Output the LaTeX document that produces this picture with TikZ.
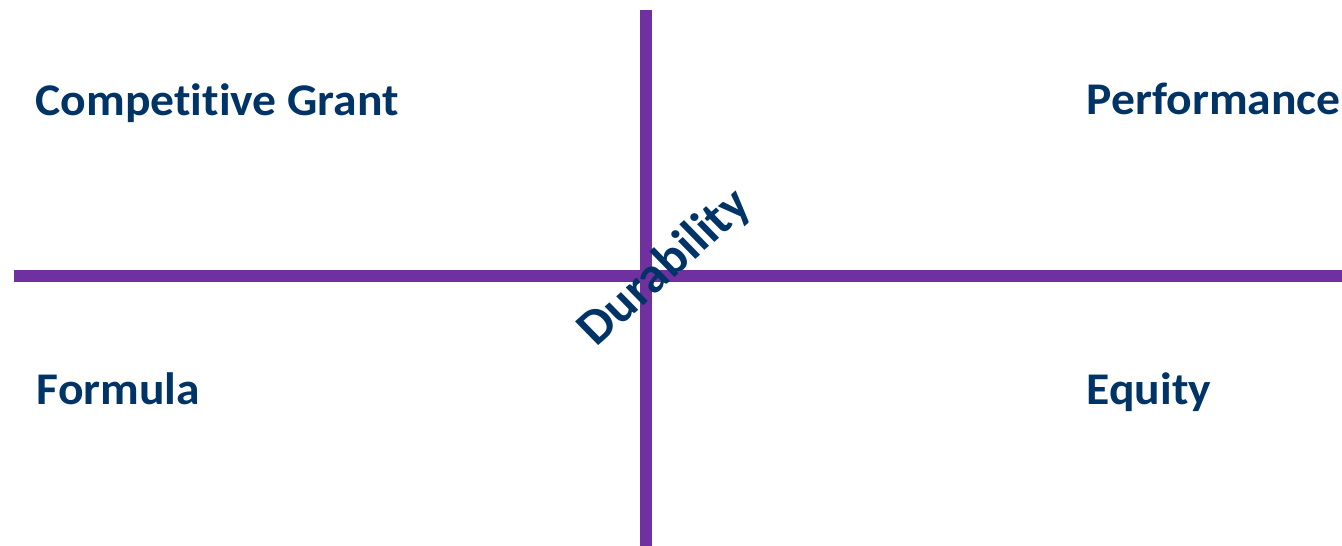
\documentclass[tikz,border=0pt]{standalone}
\usepackage{fontspec}
\setmainfont[Ligatures=NoCommon]{Carlito}
\usetikzlibrary{calc}
\definecolor{axispurple}{HTML}{7030A0}
\definecolor{labelnavy}{HTML}{003366}

\begin{document}
\begin{tikzpicture}[axis/.style={draw=axispurple, line width=0.115cm},
	quad/.style={inner sep=0pt, anchor=base west, text=labelnavy, font=\fontsize{12.9pt}{15pt}\selectfont\bfseries, xscale=1.05, transform shape}]
			\useasboundingbox (0,0) rectangle (13.42,5.46);
			\clip (0,0) rectangle (13.42,5.46);
			% axes
			\coordinate (top) at (6.46,5.36);
			\coordinate (bottom) at (6.46,0);
			\coordinate (left) at (0.14,2.70);
			\coordinate (right) at (13.42,2.70);
			\draw[axis] (top) -- (bottom);
			\draw[axis] (left) -- (right);
			% quadrant labels
			\node[quad] (grant) at (0.35,4.30) {Competitive Grant};
			\node[quad] (perf) at (10.86,4.31) {Performance};
			\node[quad] (formula) at (0.36,1.41) {Formula};
			\node[quad] (equity) at (10.86,1.41) {Equity};
			\node[inner sep=0pt, text=labelnavy, font=\fontsize{14.2pt}{16pt}\selectfont\bfseries, xscale=1.05, rotate=43, transform shape] (dur) at (6.65,2.78) {Durability};
		\end{tikzpicture}
\end{document}
